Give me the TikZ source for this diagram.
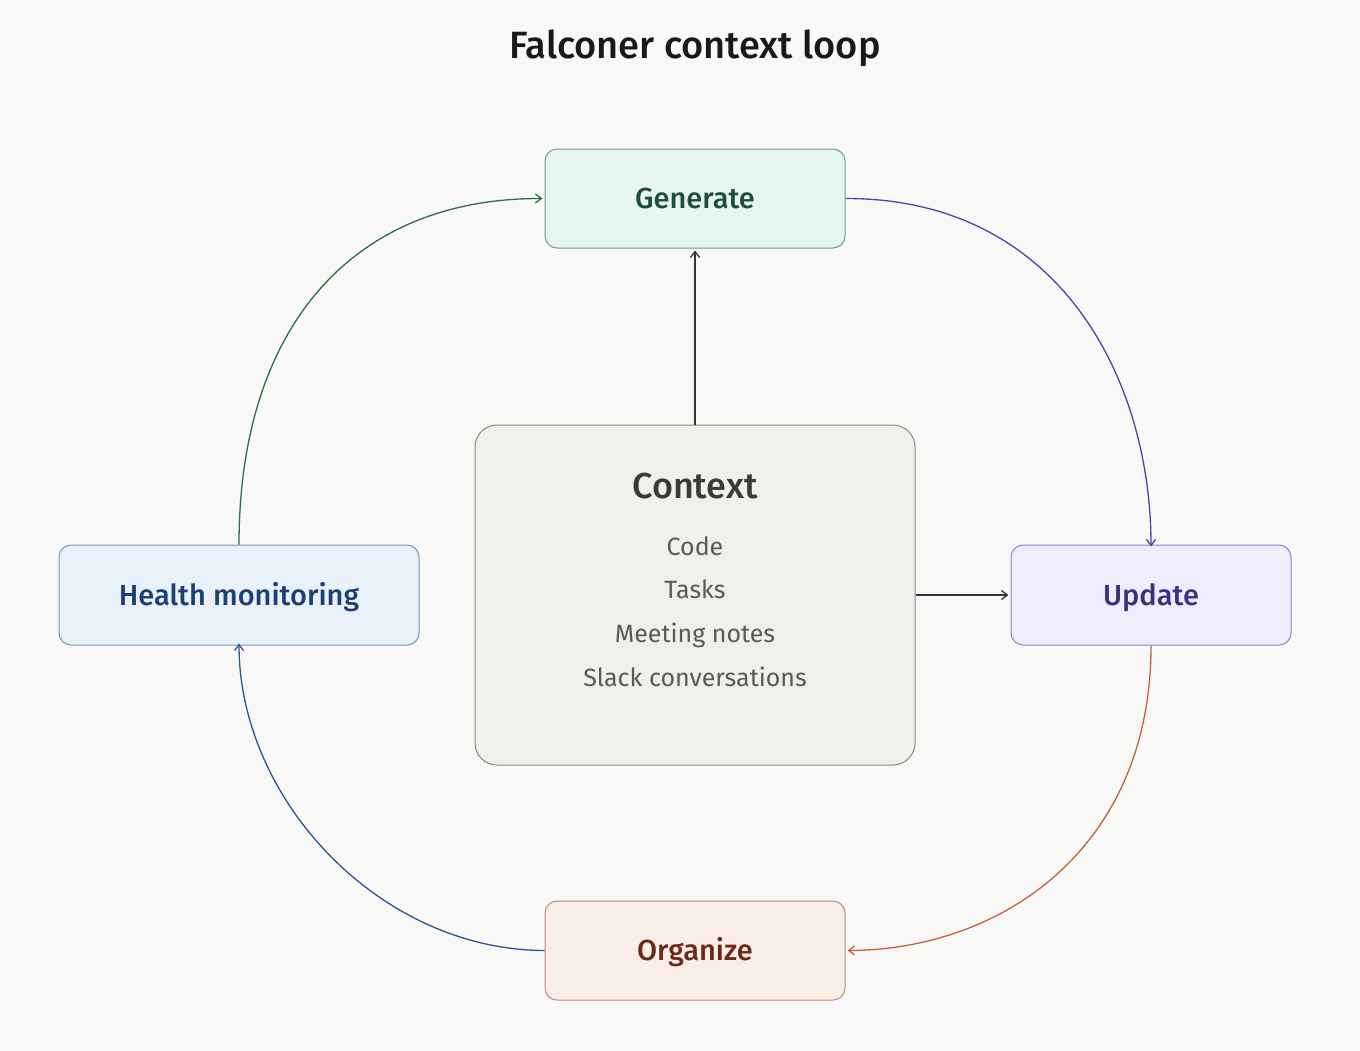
\documentclass[tikz,border=0pt]{standalone}
\usepackage{fontspec}
\setmainfont{Fira Sans}[BoldFont={Fira Sans Medium}]
\usetikzlibrary{arrows.meta}
\definecolor{bg}{HTML}{F8F8F6}
\definecolor{genfill}{HTML}{E6F5EF}\definecolor{gendraw}{HTML}{6E9E86}\definecolor{gentext}{HTML}{1F4D3A}\definecolor{genarrow}{HTML}{2E6B4F}
\definecolor{updfill}{HTML}{EEEDFC}\definecolor{upddraw}{HTML}{8A84CC}\definecolor{updtext}{HTML}{3A2F85}\definecolor{updarrow}{HTML}{4A44B0}
\definecolor{hlthfill}{HTML}{E8F0FA}\definecolor{hlthdraw}{HTML}{7A95BF}\definecolor{hlthtext}{HTML}{1D3F73}\definecolor{hltharrow}{HTML}{2E5590}
\definecolor{orgfill}{HTML}{F9EDE8}\definecolor{orgdraw}{HTML}{C08878}\definecolor{orgtext}{HTML}{6B2A18}\definecolor{orgarrow}{HTML}{C8603F}
\definecolor{ctxfill}{HTML}{F0EFEA}\definecolor{ctxdraw}{HTML}{8A8985}\definecolor{ctxtext}{HTML}{3A3A36}\definecolor{ctxitem}{HTML}{5A5955}
\definecolor{darkline}{HTML}{333333}
\begin{document}
\begin{tikzpicture}[x=1pt,y=-1pt,
  stepbox/.style={rounded corners=12pt, line width=1pt, minimum height=99pt, inner sep=0pt, text height=20pt, text depth=0pt, font=\fontsize{29}{34}\selectfont\bfseries},
  conn/.style={line width=1.3pt, -{Straight Barb[length=6pt,width=9pt,line width=1.3pt]}},
  item/.style={text=ctxitem, anchor=base, font=\fontsize{25}{30}\selectfont}]
\useasboundingbox[fill=bg] (0,0) rectangle (1360,1050);
\node[text=black!90, anchor=base, font=\fontsize{38}{44}\selectfont\bfseries] (title) at (695,58) {Falconer context loop};
\node[stepbox, fill=genfill, draw=gendraw, text=gentext, minimum width=300pt] (gen) at (695,198.5) {Generate};
\node[stepbox, fill=updfill, draw=upddraw, text=updtext, minimum width=280pt, minimum height=100pt] (upd) at (1151,595) {Update};
\node[stepbox, fill=hlthfill, draw=hlthdraw, text=hlthtext, minimum width=360pt, minimum height=100pt] (hlth) at (239,595) {Health monitoring};
\node[stepbox, fill=orgfill, draw=orgdraw, text=orgtext, minimum width=300pt] (org) at (695,950.5) {Organize};
\node[rounded corners=22pt, fill=ctxfill, draw=ctxdraw, line width=1pt, minimum width=440pt, minimum height=340pt, inner sep=0pt] (ctx) at (695,595) {};
\node[text=ctxtext, anchor=base, font=\fontsize{36}{42}\selectfont\bfseries] (ctxtitle) at (695,498) {Context};
\node[item] (i1) at (695,555) {Code};
\node[item] (i2) at (695,598) {Tasks};
\node[item] (i3) at (695,642) {Meeting notes};
\node[item] (i4) at (695,686) {Slack conversations};
\draw[conn, darkline] (ctx.north) -- ([yshift=-2pt]gen.south);
\draw[conn, darkline] (ctx.east) -- ([xshift=-2pt]upd.west);
\draw[conn, updarrow] (gen.east) .. controls (1060,198) and (1151,380) .. ([yshift=-2pt]upd.north);
\draw[conn, orgarrow] (upd.south) .. controls (1151,850) and (1000,950) .. ([xshift=2pt]org.east);
\draw[conn, hltharrow] (org.west) .. controls (380,950) and (239,800) .. ([yshift=2pt]hlth.south);
\draw[conn, genarrow] (hlth.north) .. controls (239,330) and (350,198) .. ([xshift=-2pt]gen.west);
\end{tikzpicture}
\end{document}
